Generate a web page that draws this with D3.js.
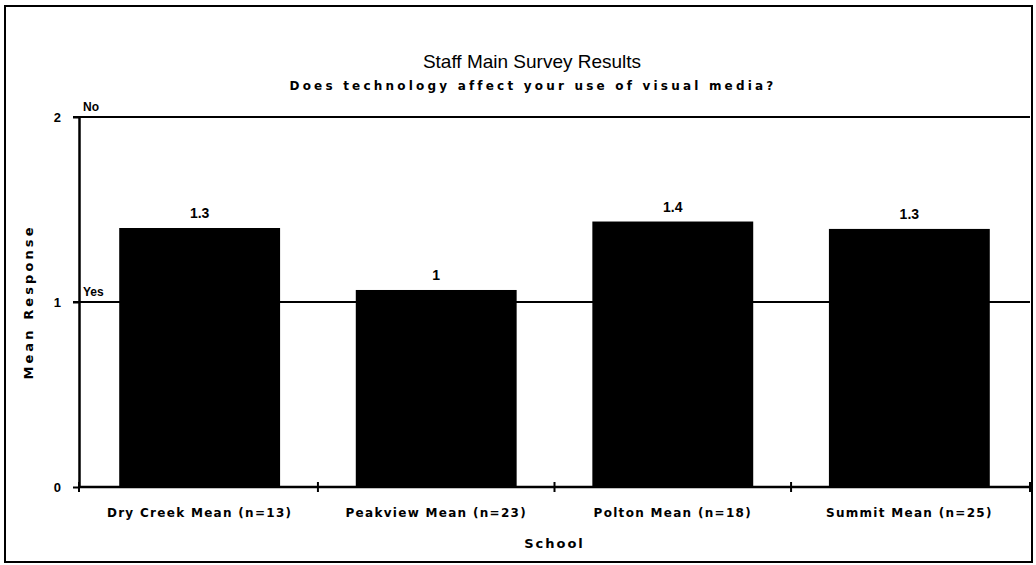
<!DOCTYPE html>
<html>
<head>
<meta charset="utf-8">
<script src="https://cdn.jsdelivr.net/npm/d3@7"></script>
<style>
  body { margin: 0; background: #fff; }
  text { font-family: "Liberation Sans", Arial, Helvetica, sans-serif; fill: #000; }
  .heavy { font-family: "DejaVu Sans", "Liberation Sans", sans-serif; font-weight: bold; }
</style>
</head>
<body>
<div id="chart"></div>
<script>
// data
var schools = ["Dry Creek Mean (n=13)", "Peakview Mean (n=23)", "Polton Mean (n=18)", "Summit Mean (n=25)"];
var means = [1.40, 1.065, 1.435, 1.395];
var valueLabels = ["1.3", "1", "1.4", "1.3"];
var yTicks = [0, 1, 2];
var refValues = [2, 1];
var refLabels = ["No", "Yes"];

var width = 1036, height = 565;
var plot = {left: 79, right: 1030, top: 117, bottom: 487};

var svg = d3.select("#chart").append("svg")
    .attr("width", width)
    .attr("height", height);

// outer frame
svg.append("rect")
    .attr("x", 5).attr("y", 6)
    .attr("width", 1027).attr("height", 556)
    .attr("fill", "none").attr("stroke", "#000").attr("stroke-width", 2);

// titles
svg.append("text")
    .attr("x", 532).attr("y", 68)
    .attr("text-anchor", "middle")
    .attr("font-size", "19px")
    .text("Staff Main Survey Results");
svg.append("text")
    .attr("class", "heavy")
    .attr("x", 533).attr("y", 90)
    .attr("text-anchor", "middle")
    .attr("font-size", "12px")
    .attr("letter-spacing", "3.2px")
    .text("Does technology affect your use of visual media?");

var x = d3.scaleBand().domain(schools)
    .range([plot.left, plot.right])
    .paddingInner(0.32).paddingOuter(0.17);
var y = d3.scaleLinear().domain([0, 2]).range([plot.bottom, plot.top]);

// reference lines for No / Yes
svg.selectAll(".ref").data(refValues).enter().append("line")
    .attr("class", "ref")
    .attr("x1", plot.left - 6).attr("x2", plot.right)
    .attr("y1", function(d) { return y(d); })
    .attr("y2", function(d) { return y(d); })
    .attr("stroke", "#000").attr("stroke-width", 2);
svg.selectAll(".refLabel").data(refValues).enter().append("text")
    .attr("class", "refLabel")
    .attr("x", plot.left + 4)
    .attr("y", function(d) { return y(d) - 6; })
    .attr("font-size", "12px").attr("font-weight", "bold")
    .text(function(d, i) { return refLabels[i]; });

// bars
svg.selectAll(".bar").data(means).enter().append("rect")
    .attr("class", "bar")
    .attr("x", function(d, i) { return x(schools[i]); })
    .attr("width", x.bandwidth())
    .attr("y", function(d) { return y(d); })
    .attr("height", function(d) { return y(0) - y(d); })
    .attr("fill", "#000");

// value labels above bars
svg.selectAll(".val").data(means).enter().append("text")
    .attr("class", "val")
    .attr("x", function(d, i) { return x(schools[i]) + x.bandwidth() / 2; })
    .attr("y", function(d) { return y(d) - 10; })
    .attr("text-anchor", "middle")
    .attr("font-size", "14px").attr("font-weight", "bold")
    .text(function(d, i) { return valueLabels[i]; });

// y axis
var yAxis = svg.append("g")
    .attr("transform", "translate(" + plot.left + ",0)")
    .call(d3.axisLeft(y).tickValues(yTicks).tickFormat(d3.format("d")).tickSize(6).tickSizeOuter(0));
yAxis.select(".domain").attr("stroke-width", 2.5);
yAxis.selectAll(".tick line").attr("stroke-width", 2);
yAxis.selectAll(".tick text")
    .attr("x", -18)
    .style("font-family", "'Liberation Sans', Arial, sans-serif")
    .style("font-size", "13px").style("font-weight", "bold");

// x axis: baseline with crossing ticks at category boundaries
var boundaries = schools.map(function(s) { return x(s) - x.step() * x.paddingInner() / 2; });
boundaries[0] = plot.left;
boundaries.push(plot.right);
svg.append("line")
    .attr("x1", plot.left).attr("x2", plot.right)
    .attr("y1", y(0)).attr("y2", y(0))
    .attr("stroke", "#000").attr("stroke-width", 2.5);
svg.selectAll(".xtick").data(boundaries).enter().append("line")
    .attr("class", "xtick")
    .attr("x1", function(d) { return d; }).attr("x2", function(d) { return d; })
    .attr("y1", y(0) - 5).attr("y2", y(0) + 5)
    .attr("stroke", "#000").attr("stroke-width", 2);
svg.selectAll(".xlab").data(schools).enter().append("text")
    .attr("class", "xlab heavy")
    .attr("x", function(d) { return x(d) + x.bandwidth() / 2; })
    .attr("y", y(0) + 30)
    .attr("text-anchor", "middle")
    .attr("font-size", "12px")
    .attr("letter-spacing", "1.3px")
    .text(function(d) { return d; });

// axis titles
svg.append("text")
    .attr("class", "heavy")
    .attr("x", (plot.left + plot.right) / 2).attr("y", 548)
    .attr("text-anchor", "middle")
    .attr("font-size", "13px")
    .attr("letter-spacing", "2px")
    .text("School");
svg.append("text")
    .attr("class", "heavy")
    .attr("transform", "translate(33," + y(1) + ") rotate(-90)")
    .attr("text-anchor", "middle")
    .attr("font-size", "13px")
    .attr("letter-spacing", "3.1px")
    .text("Mean Response");
</script>
</body>
</html>
